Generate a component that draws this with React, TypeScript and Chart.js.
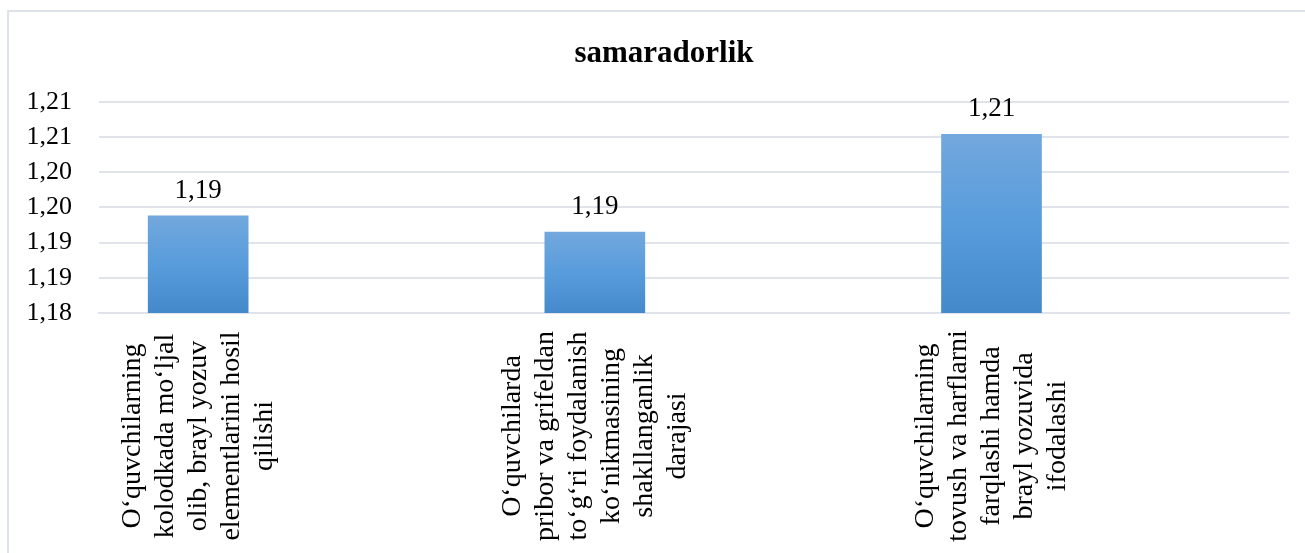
import React, { useEffect, useRef } from 'react';
import { Chart, registerables } from 'chart.js';

Chart.register(...registerables);

const chartTitle = 'samaradorlik';

const categories: string[][] = [
  ['O‘quvchilarning', 'kolodkada mo‘ljal', 'olib, brayl yozuv', 'elementlarini hosil', 'qilishi'],
  ['O‘quvchilarda', 'pribor va grifeldan', 'to‘g‘ri foydalanish', 'ko‘nikmasining', 'shakllanganlik', 'darajasi'],
  ['O‘quvchilarning', 'tovush va harflarni', 'farqlashi hamda', 'brayl yozuvida', 'ifodalashi'],
];

const seriesValues: number[] = [1.1938, 1.1915, 1.2054];

const yTickValues: number[] = [1.18, 1.185, 1.19, 1.195, 1.2, 1.205, 1.21];
const yTickLabels: string[] = ['1,18', '1,19', '1,19', '1,20', '1,20', '1,21', '1,21'];

const FONT = "'Liberation Serif', 'Times New Roman', serif";
const GRID = 'rgb(224, 228, 234)';

const fmt = (v: number) => v.toFixed(2).replace('.', ',');

export default function App() {
  const canvasRef = useRef<HTMLCanvasElement | null>(null);

  useEffect(() => {
    const canvas = canvasRef.current;
    if (!canvas) return;

    const overlay = {
      id: 'overlay',
      afterDraw(chart: any) {
        const ctx = chart.ctx;
        const xs = chart.scales.x;
        ctx.save();
        // title
        ctx.fillStyle = '#000';
        ctx.font = `bold 31px ${FONT}`;
        ctx.textAlign = 'center';
        ctx.textBaseline = 'alphabetic';
        ctx.fillText(chartTitle, 664, 62);

        // value labels
        const meta = chart.getDatasetMeta(0);
        ctx.font = `27px ${FONT}`;
        meta.data.forEach((el: any, i: number) => {
          ctx.fillText(fmt(seriesValues[i]), el.x, el.y - 18);
        });

        // category labels, rotated, centered lines
        ctx.font = `28px ${FONT}`;
        ctx.textBaseline = 'middle';
        const lh = 33;
        const cy = 436;
        categories.forEach((lines, i) => {
          const x = xs.getPixelForValue(i);
          ctx.save();
          ctx.translate(x, cy);
          ctx.rotate(-Math.PI / 2);
          const n = lines.length;
          lines.forEach((line, j) => {
            ctx.fillText(line, 0, (j - (n - 1) / 2) * lh);
          });
          ctx.restore();
        });
        ctx.restore();
      },
    };

    const chart = new Chart(canvas, {
      type: 'bar',
      data: {
        datasets: [
          {
            label: chartTitle,
            data: seriesValues.map((v, i) => ({ x: i, y: v })),
            backgroundColor: (c: any) => {
              const ch = c.chart;
              const ca = ch.chartArea;
              if (!ca || c.dataIndex === undefined) return '#5b9bd5';
              const top = ch.scales.y.getPixelForValue(seriesValues[c.dataIndex]);
              const g = ch.ctx.createLinearGradient(0, top, 0, ca.bottom);
              g.addColorStop(0, 'rgb(114, 168, 221)');
              g.addColorStop(0.5, 'rgb(88, 156, 220)');
              g.addColorStop(1, 'rgb(68, 137, 202)');
              return g;
            },
            borderWidth: 0,
            barThickness: 100,
          },
        ],
      },
      options: {
        responsive: false,
        animation: false,
        devicePixelRatio: 1,
        layout: { padding: { left: 23, right: 16, top: 102, bottom: 240 } },
        plugins: {
          legend: { display: false },
          title: { display: false },
          tooltip: { enabled: false },
        },
        scales: {
          x: {
            type: 'linear',
            min: -0.25,
            max: 2.75,
            offset: false,
            grid: { display: false, drawTicks: false },
            border: { display: true, color: GRID, width: 2 },
            ticks: { display: false },
          },
          y: {
            min: 1.18,
            max: 1.21,
            afterBuildTicks: (scale: any) => {
              scale.ticks = yTickValues.map((v) => ({ value: v }));
            },
            afterFit: (scale: any) => {
              scale.width = 76;
            },
            grid: { color: GRID, lineWidth: 2, drawTicks: false },
            border: { display: false },
            ticks: {
              autoSkip: false,
              padding: 27,
              color: '#000',
              font: { family: FONT, size: 26 },
              callback: (_v: any, idx: number) => yTickLabels[idx],
            },
          },
        },
      },
      plugins: [overlay],
    } as any);

    return () => chart.destroy();
  }, []);

  return (
    <div
      style={{
        position: 'fixed',
        left: 0,
        top: 0,
        width: 1305,
        height: 553,
        background: '#fff',
        overflow: 'hidden',
      }}
    >
      <div
        style={{
          position: 'absolute',
          left: 7,
          top: 10,
          width: 1400,
          height: 700,
          border: '2px solid rgb(222, 227, 233)',
          boxSizing: 'border-box',
        }}
      />
      <canvas
        ref={canvasRef}
        width={1305}
        height={553}
        style={{ position: 'absolute', left: 0, top: 0, width: 1305, height: 553 }}
      />
    </div>
  );
}
